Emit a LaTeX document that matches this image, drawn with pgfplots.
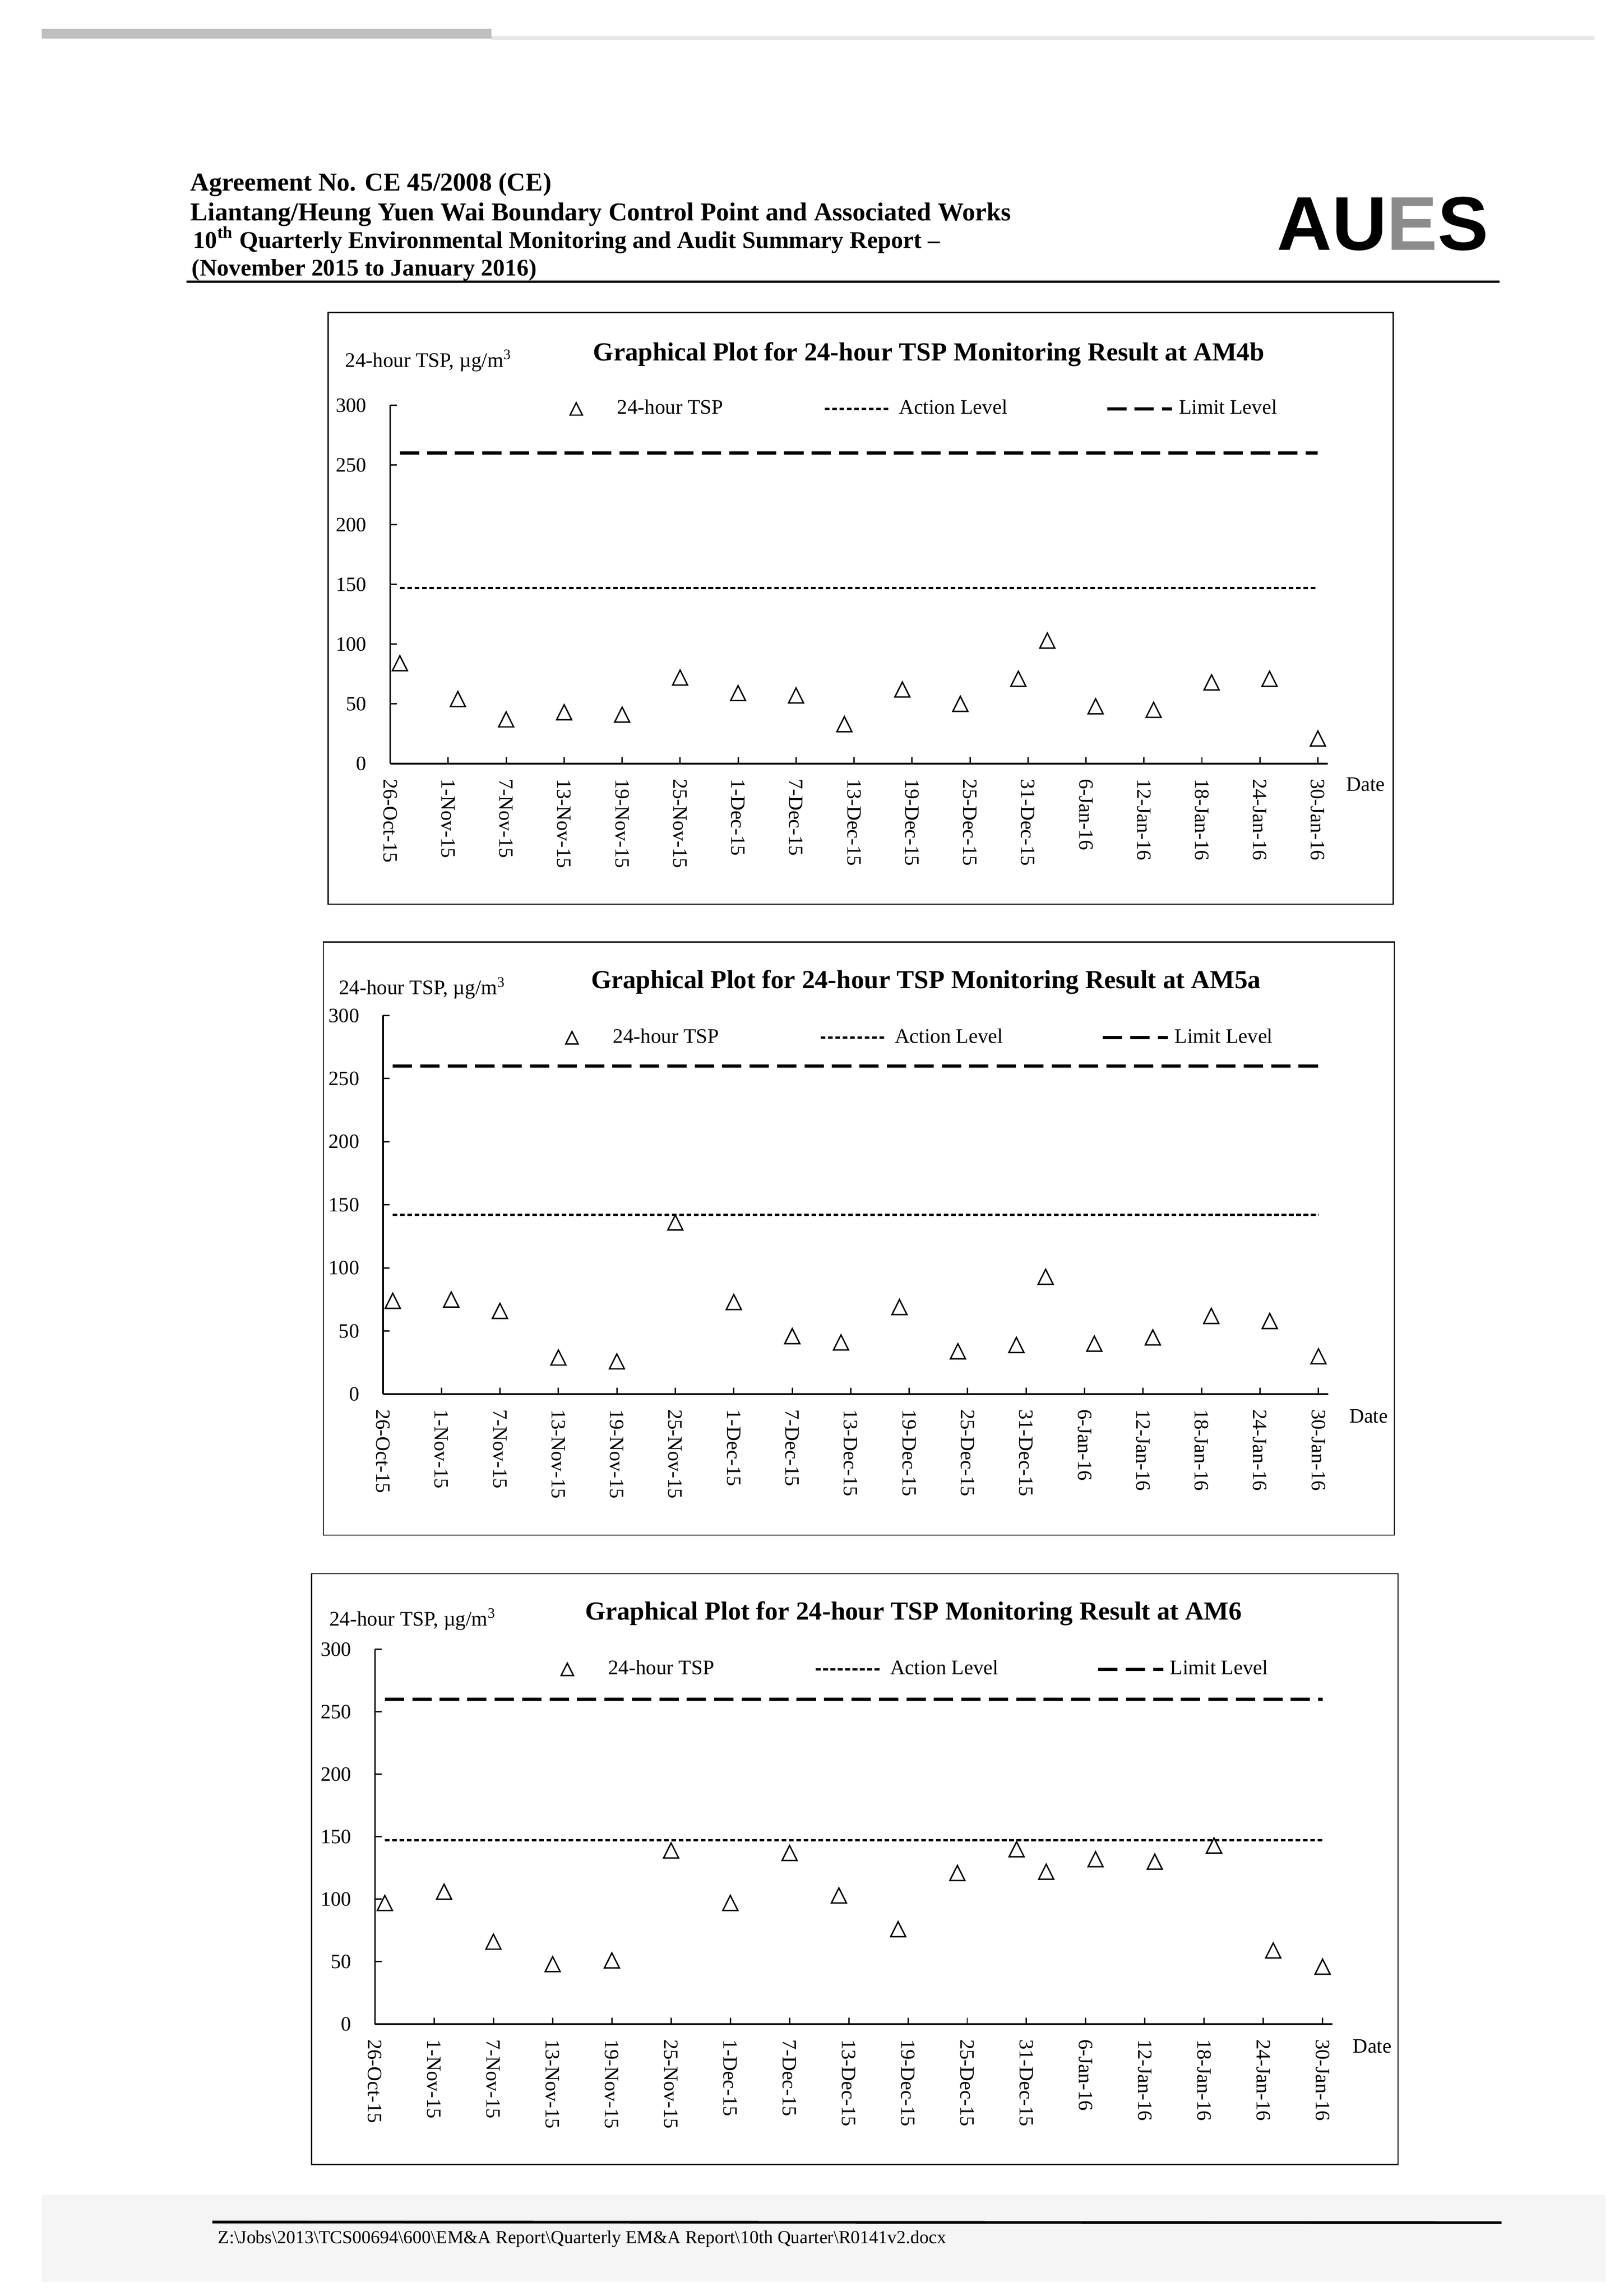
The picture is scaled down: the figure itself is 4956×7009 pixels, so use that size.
\documentclass[border=0pt]{standalone}
\usepackage{fontspec}
\setmainfont{Liberation Serif}
\newfontfamily\logofont{Liberation Sans}
\usepackage{pgfplots}
\usepackage{pgfplotstable}
\pgfplotsset{compat=1.18}

\newcommand\fsz[1]{\fontsize{#1}{#1}\selectfont}
\newcommand\U{0.0423729mm}

\pgfdeclareplotmark{tri}{%
  \pgfpathmoveto{\pgfqpoint{0pt}{\pgfplotmarksize}}%
  \pgfpathlineto{\pgfqpoint{\pgfplotmarksize}{-\pgfplotmarksize}}%
  \pgfpathlineto{\pgfqpoint{-\pgfplotmarksize}{-\pgfplotmarksize}}%
  \pgfpathclose
  \pgfusepathqstroke}

% 24-hour TSP (ug/m3); day 0 = 26-Oct-15
\pgfplotstableread{
day AM4b AM5a AM6
1   84   74   97
7   54   75   106
12  37   66   66
18  43   29   48
24  41   26   51
30  72   136  139
36  59   73   97
42  57   46   137
47  33   41   103
53  62   69   76
59  50   34   121
65  71   39   140
68  103  93   122
73  48   40   132
79  45   45   130
85  68   62   143
91  71   58   59
96  21   30   46
}\tspdata

\pgfplotsset{
  tspchart/.style={
    scale only axis, clip=false,
    xmin=0, xmax=97, ymin=0, ymax=300,
    axis lines*=left,
    axis line style={line width=0.6pt, black},
    xtick={0,6,...,96},
    xticklabels={26-Oct-15,1-Nov-15,7-Nov-15,13-Nov-15,19-Nov-15,25-Nov-15,1-Dec-15,7-Dec-15,13-Dec-15,19-Dec-15,25-Dec-15,31-Dec-15,6-Jan-16,12-Jan-16,18-Jan-16,24-Jan-16,30-Jan-16},
    ytick={0,50,...,300},
    tick align=inside, major tick length=0.85mm,
    tick style={line width=0.5pt, black},
    /pgf/number format/assume math mode=true,
    ticklabel style={font=\fsz{7.5}},
    yticklabel style={inner sep=0pt}, yticklabel shift=3mm,
    xticklabel style={rotate=-90, anchor=west, inner sep=0pt}, xticklabel shift=1.9mm,
    legend columns=3,
    legend style={draw=none, fill=none, inner sep=0pt, outer sep=0pt, anchor=west,
      font=\fsz{7.6}, column sep=0pt, row sep=0pt,
      nodes={inner sep=0pt, outer sep=0pt}},
  },
  tspmark/.style={only marks, mark=tri, mark size=0.97mm,
    mark options={draw=black, fill=none, line width=0.5pt, solid},
    legend image code/.code={\path[draw=none, fill=none] (-1mm,-1mm) rectangle (5.3mm,1mm);
      \draw[##1, mark size=0.8mm] plot coordinates {(0mm,0mm)};}},
  actline/.style={black, line width=0.3mm, dash pattern=on 0.6mm off 0.35mm,
    legend image code/.code={\path[draw=none, fill=none] (0mm,-1mm) rectangle (9.6mm,1mm);
      \draw[##1] (0mm,0mm) -- (8.4mm,0mm);}},
  limline/.style={black, line width=0.42mm, dash pattern=on 2.5mm off 1.05mm,
    legend image code/.code={\path[draw=none, fill=none] (0mm,-1mm) rectangle (9.3mm,1mm);
      \draw[##1] (0mm,0mm) -- (8.4mm,0mm);}},
}

\begin{document}
\begin{tikzpicture}
\begin{scope}[x=\U, y=-\U]
  \fill[white] (0,0) rectangle (4956,7009);
  \path[use as bounding box] (0,0) rectangle (4956,7009);
  % scan strip at top
  \fill[black!25] (127,88) rectangle (1500,118);
  \fill[black!9] (1500,110) rectangle (4867,122);
  % header
  \node[anchor=base west, inner sep=0pt, font=\fsz{9.5}\bfseries] at (580,582) {Agreement No. CE 45/2008 (CE)};
  \node[anchor=base west, inner sep=0pt, font=\fsz{9.5}\bfseries] at (580,673) {Liantang/Heung Yuen Wai Boundary Control Point and Associated Works};
  \node[anchor=base west, inner sep=0pt, font=\fsz{8.85}\bfseries] at (588,758) {10\textsuperscript{th} Quarterly Environmental Monitoring and Audit Summary Report --};
  \node[anchor=base west, inner sep=0pt, font=\fsz{8.75}\bfseries] at (584,842) {(November 2015 to January 2016)};
  \draw[line width=0.25mm] (569,860) -- (4577,860);
  \node[anchor=base west, inner sep=0pt, font=\logofont\bfseries\fsz{28}] at (3896,763) {AU\textcolor{black!45}{E}S};
  % frames
  \draw[line width=0.45pt] (1002,954) rectangle (4252,2760);
  \draw[line width=0.45pt] (987,2876) rectangle (4256,4686);
  \draw[line width=0.45pt] (951,4804) rectangle (4267,6607);
  % titles
  \node[anchor=base, inner sep=0pt, font=\fsz{9.6}\bfseries] at (2835,1101) {Graphical Plot for 24-hour TSP Monitoring Result at AM4b};
  \node[anchor=base, inner sep=0pt, font=\fsz{9.6}\bfseries] at (2826,3018) {Graphical Plot for 24-hour TSP Monitoring Result at AM5a};
  \node[anchor=base, inner sep=0pt, font=\fsz{9.6}\bfseries] at (2788,4945) {Graphical Plot for 24-hour TSP Monitoring Result at AM6};
  % y labels
  \node[anchor=base west, inner sep=0pt, font=\fsz{7.6}] at (1052,1120) {24-hour TSP, µg/m\textsuperscript{3}};
  \node[anchor=base west, inner sep=0pt, font=\fsz{7.6}] at (1033,3036) {24-hour TSP, µg/m\textsuperscript{3}};
  \node[anchor=base west, inner sep=0pt, font=\fsz{7.6}] at (1004,4963) {24-hour TSP, µg/m\textsuperscript{3}};
  % x labels
  \node[anchor=base west, inner sep=0pt, font=\fsz{7.5}] at (4108,2415) {Date};
  \node[anchor=base west, inner sep=0pt, font=\fsz{7.5}] at (4117,4343) {Date};
  \node[anchor=base west, inner sep=0pt, font=\fsz{7.5}] at (4128,6266) {Date};
  % footer
  \fill[black!4] (127,6700) rectangle (4900,6965);
  \draw[line width=0.35mm] (648,6783) -- (4583,6785);
  \node[anchor=base west, inner sep=0pt, font=\fsz{6.75}] at (664,6849) {Z:\textbackslash Jobs\textbackslash 2013\textbackslash TCS00694\textbackslash 600\textbackslash EM\&A Report\textbackslash Quarterly EM\&A Report\textbackslash 10th Quarter\textbackslash R0141v2.docx};
\end{scope}

% ---- AM4b ----
\begin{axis}[tspchart,
  at={({1191*\U},{-2331*\U})}, anchor=south west,
  width={2861*\U}, height={1094*\U},
  legend style={at={(axis cs:18.45,296.9)}}]
  \addplot[tspmark] table[x=day, y=AM4b] {\tspdata};
  \addlegendentry{\makebox[26.7mm][l]{24-hour TSP}}
  \addplot[actline] coordinates {(1,147) (96,147)};
  \addlegendentry{\makebox[26.7mm][l]{Action Level}}
  \addplot[limline] coordinates {(1,260) (96,260)};
  \addlegendentry{Limit Level}
\end{axis}

% ---- AM5a ----
\begin{axis}[tspchart,
  at={({1169*\U},{-4256*\U})}, anchor=south west,
  width={2885*\U}, height={1156*\U},
  legend style={at={(axis cs:18.6,282.4)}}]
  \addplot[tspmark] table[x=day, y=AM5a] {\tspdata};
  \addlegendentry{\makebox[26.7mm][l]{24-hour TSP}}
  \addplot[actline] coordinates {(1,142.2) (96,142.2)};
  \addlegendentry{\makebox[26.7mm][l]{Action Level}}
  \addplot[limline] coordinates {(1,260) (96,260)};
  \addlegendentry{Limit Level}
\end{axis}

% ---- AM6 ----
\begin{axis}[tspchart,
  at={({1144.5*\U},{-6179*\U})}, anchor=south west,
  width={2922.5*\U}, height={1144*\U},
  legend style={at={(axis cs:18.7,284)}}]
  \addplot[tspmark] table[x=day, y=AM6] {\tspdata};
  \addlegendentry{\makebox[26.7mm][l]{24-hour TSP}}
  \addplot[actline] coordinates {(1,147.3) (96,147.3)};
  \addlegendentry{\makebox[26.7mm][l]{Action Level}}
  \addplot[limline] coordinates {(1,260) (96,260)};
  \addlegendentry{Limit Level}
\end{axis}
\end{tikzpicture}
\end{document}
